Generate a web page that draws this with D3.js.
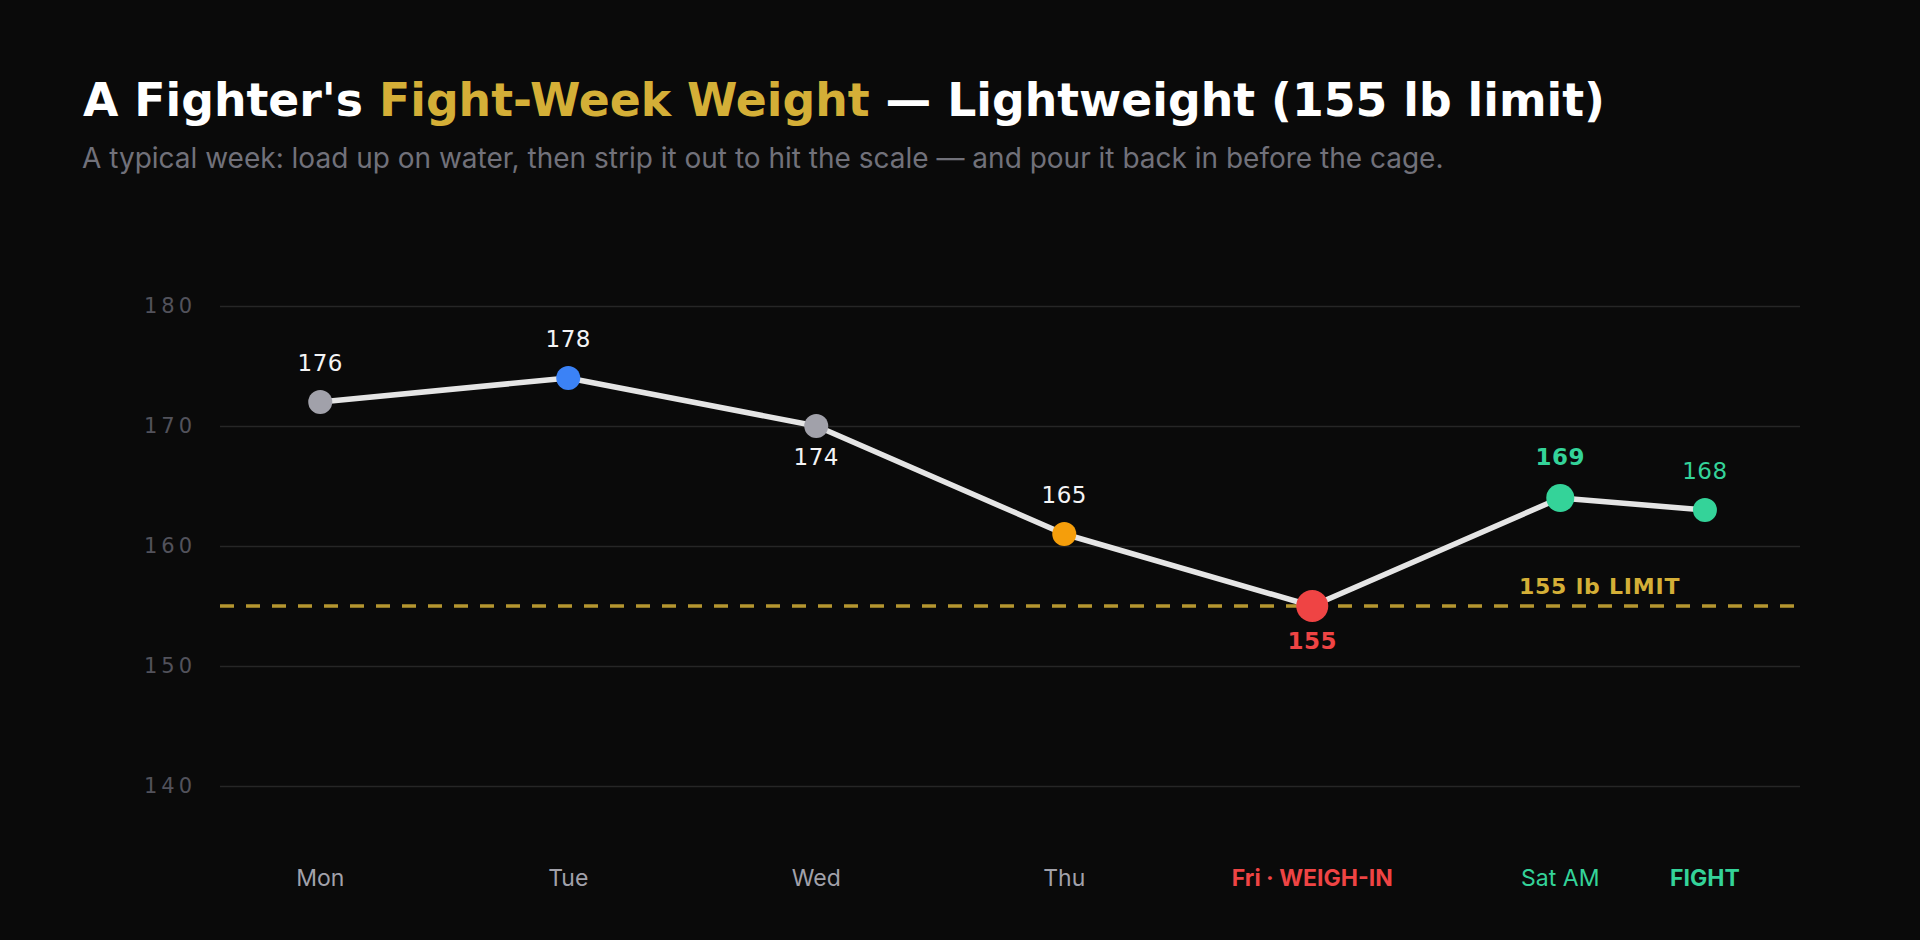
<!DOCTYPE html>
<html>
<head>
<meta charset="utf-8">
<script src="https://cdn.jsdelivr.net/npm/d3@7"></script>
<style>
  html, body { margin: 0; padding: 0; background: #0a0a0a; }
  svg { display: block; }
</style>
</head>
<body>
<div id="chart"></div>
<script>
const WIDTH = 1920;
const HEIGHT = 940;

// x position in hours from Monday morning
const days = ["Mon", "Tue", "Wed", "Thu", "Fri · WEIGH-IN", "Sat AM", "FIGHT"];
const hours = [0, 24, 48, 72, 96, 120, 134];
const plotted = [172, 174, 170, 161, 155, 164, 163];
const labels = ["176", "178", "174", "165", "155", "169", "168"];
const labelSide = ["above", "above", "below", "above", "below", "above", "above"];
const dotColors = ["#a1a1aa", "#3b82f6", "#a1a1aa", "#f59e0b", "#ef4444", "#34d399", "#34d399"];
const labelColors = ["#f4f4f5", "#f4f4f5", "#f4f4f5", "#f4f4f5", "#ef4444", "#34d399", "#34d399"];
const labelWeights = ["normal", "normal", "normal", "normal", "bold", "bold", "normal"];
const dayColors = ["#a1a1aa", "#a1a1aa", "#a1a1aa", "#a1a1aa", "#ef4444", "#34d399", "#34d399"];
const dayWeights = ["normal", "normal", "normal", "normal", "bold", "normal", "bold"];
const dotRadius = [12, 12, 12, 12, 16, 14, 12];
const yTicks = [140, 150, 160, 170, 180];
const LIMIT = 155;

const GOLD = "#d4af37";
const SQUARE = "'DejaVu Sans', sans-serif";

const svg = d3.select("#chart").append("svg")
  .attr("width", WIDTH)
  .attr("height", HEIGHT);

svg.append("rect").attr("width", WIDTH).attr("height", HEIGHT).attr("fill", "#0a0a0a");

// title
const title = svg.append("text")
  .attr("x", 83)
  .attr("y", 116)
  .attr("font-family", SQUARE)
  .attr("font-weight", "bold")
  .attr("font-size", 46)
  .attr("textLength", 1522)
  .attr("lengthAdjust", "spacingAndGlyphs");
title.append("tspan").attr("fill", "#ffffff").text("A Fighter's ");
title.append("tspan").attr("fill", GOLD).text("Fight-Week Weight");
title.append("tspan").attr("fill", "#ffffff").text(" — Lightweight (155 lb limit)");

svg.append("text")
  .attr("x", 82)
  .attr("y", 168)
  .attr("font-family", "Inter, sans-serif")
  .attr("font-size", 28)
  .attr("fill", "#71717a")
  .text("A typical week: load up on water, then strip it out to hit the scale — and pour it back in before the cage.");

// scales
const x = d3.scaleLinear().domain([-9.7, 143.2]).range([220, 1800]);
const y = d3.scaleLinear().domain([140, 180]).range([786, 306]);

// grid
const grid = svg.append("g")
  .attr("transform", "translate(220,0)")
  .call(d3.axisLeft(y).tickValues(yTicks).tickSize(-(1800 - 220)).tickPadding(24));
grid.select(".domain").remove();
grid.selectAll(".tick line").attr("stroke", "#262626").attr("stroke-width", 1.5);
grid.selectAll(".tick text")
  .attr("fill", "#52525b")
  .attr("font-family", SQUARE)
  .attr("font-size", 21)
  .attr("letter-spacing", 4);

// weight limit
svg.append("line")
  .attr("x1", 220).attr("x2", 1800)
  .attr("y1", y(LIMIT)).attr("y2", y(LIMIT))
  .attr("stroke", GOLD)
  .attr("stroke-opacity", 0.85)
  .attr("stroke-width", 3.5)
  .attr("stroke-dasharray", "14 12");

svg.append("text")
  .attr("x", (x(hours[5]) + x(hours[6])) / 2 - 33)
  .attr("y", y(LIMIT) - 12)
  .attr("text-anchor", "middle")
  .attr("font-family", SQUARE)
  .attr("font-weight", "bold")
  .attr("font-size", 22)
  .attr("letter-spacing", 0.8)
  .attr("fill", GOLD)
  .text("155 lb LIMIT");

// line
const pts = hours.map((h, i) => ({ h, v: plotted[i], i }));
svg.append("path")
  .datum(pts)
  .attr("fill", "none")
  .attr("stroke", "#e5e5e5")
  .attr("stroke-width", 5.5)
  .attr("stroke-linejoin", "round")
  .attr("d", d3.line().x(d => x(d.h)).y(d => y(d.v)));

svg.selectAll("circle.dot")
  .data(pts)
  .enter().append("circle")
  .attr("class", "dot")
  .attr("cx", d => x(d.h))
  .attr("cy", d => y(d.v))
  .attr("r", d => dotRadius[d.i])
  .attr("fill", d => dotColors[d.i]);

svg.selectAll("text.val")
  .data(pts)
  .enter().append("text")
  .attr("class", "val")
  .attr("x", d => x(d.h))
  .attr("y", d => labelSide[d.i] === "above"
    ? y(d.v) - dotRadius[d.i] - 19
    : y(d.v) + dotRadius[d.i] + 27)
  .attr("text-anchor", "middle")
  .attr("font-family", SQUARE)
  .attr("font-size", 23)
  .attr("letter-spacing", 0.5)
  .attr("font-weight", d => labelWeights[d.i])
  .attr("fill", d => labelColors[d.i])
  .text(d => labels[d.i]);

// day labels
svg.selectAll("text.day")
  .data(pts)
  .enter().append("text")
  .attr("class", "day")
  .attr("x", d => x(d.h))
  .attr("y", 886)
  .attr("text-anchor", "middle")
  .attr("font-family", "Inter, sans-serif")
  .attr("font-size", 23)
  .attr("font-weight", d => dayWeights[d.i])
  .attr("fill", d => dayColors[d.i])
  .text(d => days[d.i]);
</script>
</body>
</html>
